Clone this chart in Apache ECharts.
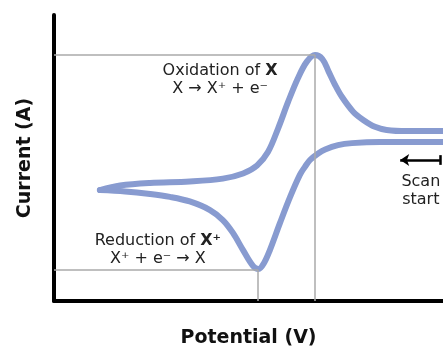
<!DOCTYPE html>
<html>
<head>
<meta charset="utf-8">
<script src="https://cdn.jsdelivr.net/npm/echarts@6/dist/echarts.min.js"></script>
<style>html,body{margin:0;padding:0;background:#fff}#c{width:443px;height:348px}</style>
</head>
<body>
<div id="c"></div>
<script>
// Reduction sweep (scan start at right, moving left), potential / current in arbitrary units (0-100)
const potentialRed = [100, 83.8, 76.6, 73.0, 69.7, 67.9, 65.8, 64.5, 63.2, 60.7, 58.1, 55.5, 54.0, 52.6, 51.2, 48.6, 46.0, 43.4, 40.1, 34.9, 29.8, 24.7, 18.3, 11.8];
const currentRed   = [55.6, 55.6, 55.2, 54.5, 53.0, 51.6, 49.3, 46.9, 44.1, 36.4, 27.3, 17.8, 13.3, 11.2, 12.2, 17.8, 23.8, 28.3, 31.8, 34.8, 36.4, 37.4, 38.3, 38.8];
// Oxidation sweep (back from the switching point to the right)
const potentialOx = [11.8, 17.0, 24.7, 34.9, 43.4, 48.6, 52.2, 55.0, 57.6, 60.2, 62.7, 65.0, 67.1, 69.0, 70.6, 72.2, 74.0, 76.9, 79.5, 82.5, 85.5, 90.7, 100];
const currentOx   = [38.8, 40.4, 41.3, 41.8, 42.8, 44.6, 47.4, 52.1, 60.3, 69.7, 77.9, 83.7, 86.0, 84.6, 80.2, 75.7, 71.4, 66.2, 63.3, 60.9, 59.8, 59.4, 59.4];
const oxPeak = [67.1, 86.0];
const redPeak = [52.5, 10.8];
const oxLabel = [42.7, 77.4];
const redLabel = [26.7, 17.8];
const scanLabel = [94.3, 38.6];
const scanArrow = [[99.2, 49.3], [89.0, 49.3]];
const scanBar = [[99.2, 51.0], [99.2, 47.6]];

const red = potentialRed.map((p, i) => [p, currentRed[i]]);
const ox = potentialOx.map((p, i) => [p, currentOx[i]]);
const chart = echarts.init(document.getElementById('c'));
const txt = {fontFamily: 'DejaVu Sans', fontSize: 16, color: '#222', lineHeight: 18};
const curveStyle = {color: '#889bd0', width: 6, cap: 'round', join: 'round'};
chart.setOption({
  animation: false,
  grid: {left: 54, right: 0, top: 15, bottom: 47, outerBoundsMode: 'none', containLabel: false},
  xAxis: {type: 'value', min: 0, max: 100, name: 'Potential (V)', nameLocation: 'middle', nameGap: 28,
    nameTextStyle: {fontFamily: 'DejaVu Sans', fontWeight: 'bold', fontSize: 19, color: '#111'},
    axisLine: {lineStyle: {color: '#000', width: 4, cap: 'round'}}, axisTick: {show: false}, axisLabel: {show: false}, splitLine: {show: false}},
  yAxis: {type: 'value', min: 0, max: 100, name: 'Current (A)', nameLocation: 'middle', nameGap: 19,
    nameTextStyle: {fontFamily: 'DejaVu Sans', fontWeight: 'bold', fontSize: 19, color: '#111'},
    axisLine: {lineStyle: {color: '#000', width: 4, cap: 'round'}}, axisTick: {show: false}, axisLabel: {show: false}, splitLine: {show: false}},
  series: [
    {type: 'line', data: [], z: 1, silent: true,
      markLine: {silent: true, symbol: 'none', label: {show: false}, animation: false,
        lineStyle: {color: '#aaaaaa', width: 1.5, type: 'solid'},
        data: [
          [{coord: [0, oxPeak[1]]}, {coord: oxPeak}],
          [{coord: oxPeak}, {coord: [oxPeak[0], 0]}],
          [{coord: [0, redPeak[1]]}, {coord: redPeak}],
          [{coord: redPeak}, {coord: [redPeak[0], 0]}]
        ]}},
    {type: 'line', data: red, smooth: 0.35, showSymbol: false, z: 3, silent: true, lineStyle: curveStyle},
    {type: 'line', data: ox, smooth: 0.35, showSymbol: false, z: 3, silent: true, lineStyle: curveStyle,
      markPoint: {silent: true, symbol: 'circle', symbolSize: 0,
        data: [
          {coord: oxLabel, label: {show: true, position: 'inside', ...txt, align: 'center',
            formatter: 'Oxidation of {b|X}\nX → X⁺ + e⁻', rich: {b: {...txt, fontWeight: 'bold'}}}},
          {coord: redLabel, label: {show: true, position: 'inside', ...txt, align: 'center',
            formatter: 'Reduction of {b|X⁺}\nX⁺ + e⁻ → X', rich: {b: {...txt, fontWeight: 'bold'}}}},
          {coord: scanLabel, label: {show: true, position: 'inside', ...txt, align: 'center',
            formatter: 'Scan\nstart'}}
        ]}},
    {type: 'line', data: [], z: 4, silent: true,
      markLine: {silent: true, label: {show: false},
        lineStyle: {color: '#000', width: 2.5, type: 'solid'},
        data: [
          [{coord: scanArrow[0], symbol: 'none'}, {coord: scanArrow[1], symbol: 'arrow', symbolSize: [9, 9]}],
          [{coord: scanBar[0], symbol: 'none'}, {coord: scanBar[1], symbol: 'none'}]
        ]}}
  ]
});
</script>
</body>
</html>
